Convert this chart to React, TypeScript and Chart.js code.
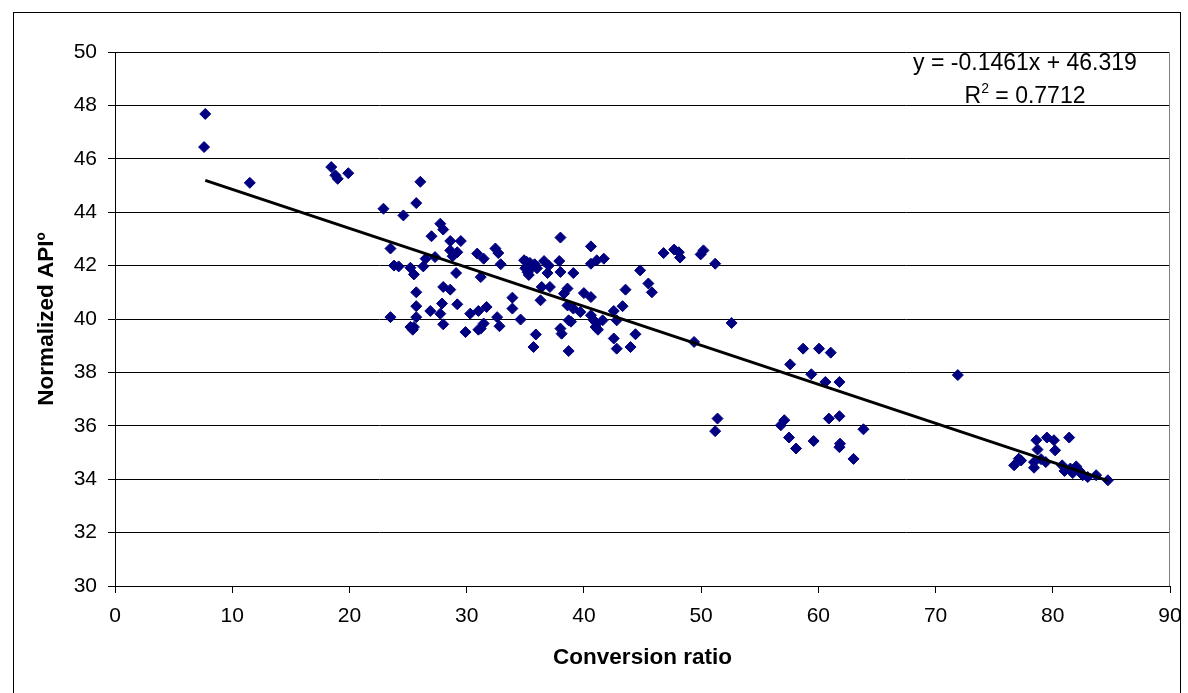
import React, { useEffect, useRef } from 'react';
import { Chart, registerables } from 'chart.js';

Chart.register(...registerables);

// ---- Data ----
const conversionRatio: number[] = [
  7.7, 7.6, 11.5, 18.45, 18.8, 19.0, 19.9,
  22.9, 24.6, 25.7, 26.05,
  27.75, 28.0, 27.0, 28.6, 29.5, 28.6, 29.2, 28.8, 30.9, 31.45,
  23.5, 23.8, 24.2, 25.2, 25.5, 26.3, 26.5, 27.3, 29.1, 31.2,
  25.7, 28.0, 28.6, 25.7, 27.9, 29.2, 26.9, 27.75, 25.7, 23.5,
  30.3, 31.0, 31.7, 25.2, 25.5, 25.4, 28.0, 29.9, 31.2, 31.45,
  38.0, 40.6, 32.45, 32.7, 32.9, 34.9, 35.0, 35.2, 35.4, 35.6,
  35.8, 35.3, 36.0, 35.1, 36.6, 37.0, 37.9, 36.9, 38.0, 39.1,
  40.6, 41.1, 36.4, 37.1, 38.6, 38.3, 40.0, 40.6, 36.3, 33.9,
  33.9, 38.6, 39.1, 39.7, 32.6, 34.6, 40.6, 40.85, 38.7, 32.8,
  31.0, 38.0, 38.1, 35.9, 35.7, 38.7, 41.0, 38.9,
  46.8, 47.7, 48.1, 48.2, 49.96, 50.2, 44.8, 45.5, 45.8, 41.7,
  43.55, 43.3, 42.55, 42.8, 41.1, 41.6, 41.2, 44.4, 42.55, 42.8,
  43.98, 49.4,
  51.2, 52.6, 51.4, 51.2, 56.8, 57.1, 57.5, 58.1, 57.6, 58.7,
  60.06, 61.06, 59.4, 60.6, 61.8, 59.6, 60.9, 61.8, 61.85, 61.8,
  63.85, 63.0,
  71.9, 76.7, 77.1, 78.6, 78.7, 78.4, 78.4, 79.5, 80.1, 80.2,
  79.4, 81.4, 80.8, 81.0, 82.0, 81.7, 82.55, 82.98, 83.7, 84.7,
  77.3, 79.0, 81.5, 82.3,
];

const normalizedApi: number[] = [
  47.68, 46.44, 45.1, 45.69, 45.38, 45.25, 45.46,
  44.13, 43.88, 44.34, 45.14,
  43.57, 43.35, 43.1, 42.92, 42.92, 42.57, 42.5, 42.35, 42.45, 42.26,
  42.64, 42.0, 41.97, 41.92, 41.67, 41.97, 42.26, 42.32, 41.72, 41.57,
  41.0, 41.2, 41.1, 40.48, 40.58, 40.55, 40.3, 40.2, 40.07, 40.07,
  40.2, 40.3, 40.45, 39.7, 39.7, 39.6, 39.8, 39.51, 39.64, 39.83,
  43.05, 42.72, 42.64, 42.47, 42.05, 42.2, 41.9, 41.75, 42.1, 41.95,
  42.05, 41.65, 41.9, 42.15, 42.17, 42.0, 42.17, 41.72, 41.76, 41.72,
  42.07, 42.2, 41.2, 41.2, 41.14, 40.95, 40.97, 40.82, 40.7, 40.8,
  40.39, 40.51, 40.39, 40.26, 40.07, 39.98, 40.14, 39.95, 39.95, 39.73,
  39.6, 39.64, 39.45, 39.42, 38.95, 38.8, 39.7, 39.9,
  42.47, 42.6, 42.5, 42.3, 42.42, 42.57, 41.82, 41.33, 41.0, 42.26,
  41.1, 40.48, 40.3, 39.95, 39.83, 39.95, 39.6, 39.43, 39.27, 38.89,
  38.95, 39.14,
  42.07, 39.85, 36.27, 35.8, 36.02, 36.21, 35.56, 35.15, 38.3, 38.89,
  38.89, 38.74, 37.93, 37.64, 37.64, 35.43, 36.27, 36.36, 35.33, 35.2,
  35.87, 34.76,
  37.9, 34.52, 34.77, 35.46, 35.11, 34.64, 34.43, 35.56, 35.46, 35.08,
  34.64, 35.56, 34.52, 34.31, 34.48, 34.23, 34.15, 34.08, 34.15, 33.96,
  34.7, 34.75, 34.4, 34.3,
];

const xAxis = { min: 0, max: 90, step: 10 };
const yAxis = { min: 30, max: 50, step: 2 };

const trendSlope = -0.1461;
const trendIntercept = 46.319;
const trendXRange: number[] = [7.7, 84.7];

const equationText = 'y = -0.1461x + 46.319';
const rSquaredValue = '0.7712';

const xTitle = 'Conversion ratio';
const yTitle = 'Normalized APIº';

const FONT = '"Liberation Sans", Arial, Helvetica, sans-serif';

export default function App() {
  const canvasRef = useRef<HTMLCanvasElement | null>(null);

  useEffect(() => {
    const canvas = canvasRef.current;
    if (!canvas) return;

    const points = conversionRatio.map((x, i) => ({ x, y: normalizedApi[i] }));
    const trend = trendXRange.map((x) => ({ x, y: trendSlope * x + trendIntercept }));

    const framePlugin = {
      id: 'frame',
      beforeDatasetsDraw(chart: any) {
        const { ctx, chartArea } = chart;
        ctx.save();
        ctx.strokeStyle = '#808080';
        ctx.lineWidth = 1;
        ctx.beginPath();
        const x = Math.round(chartArea.right) - 0.5;
        ctx.moveTo(x, chartArea.top);
        ctx.lineTo(x, chartArea.bottom);
        ctx.stroke();
        ctx.restore();
      },
      afterDraw(chart: any) {
        const { ctx, chartArea } = chart;
        const cx = chartArea.right - 145;
        ctx.save();
        ctx.fillStyle = '#000';
        ctx.textBaseline = 'alphabetic';
        ctx.font = `23px ${FONT}`;
        ctx.textAlign = 'center';
        ctx.fillText(equationText, cx, chartArea.top + 18);
        // R² line
        const partA = 'R';
        const partB = '2';
        const partC = ' = ' + rSquaredValue;
        ctx.font = `23px ${FONT}`;
        const wA = ctx.measureText(partA).width;
        const wC = ctx.measureText(partC).width;
        ctx.font = `14px ${FONT}`;
        const wB = ctx.measureText(partB).width;
        const total = wA + wB + wC;
        let sx = cx - total / 2;
        const by = chartArea.top + 51;
        ctx.textAlign = 'left';
        ctx.font = `23px ${FONT}`;
        ctx.fillText(partA, sx, by);
        sx += wA;
        ctx.font = `14px ${FONT}`;
        ctx.fillText(partB, sx, by - 10);
        sx += wB;
        ctx.font = `23px ${FONT}`;
        ctx.fillText(partC, sx, by);
        ctx.restore();
      },
    };

    const chart = new Chart(canvas, {
      type: 'scatter',
      data: {
        datasets: [
          {
            type: 'line',
            data: trend,
            borderColor: '#000000',
            borderWidth: 3,
            pointRadius: 0,
            fill: false,
            order: 0,
          } as any,
          {
            type: 'scatter',
            data: points,
            pointStyle: 'rectRot',
            pointRadius: 5.5,
            backgroundColor: '#000080',
            borderColor: '#000080',
            borderWidth: 1,
            order: 1,
          } as any,
        ],
      },
      options: {
        animation: false,
        responsive: false,
        maintainAspectRatio: false,
        layout: { padding: { left: 0, top: 52, right: 18, bottom: 0 } },
        plugins: {
          legend: { display: false },
          tooltip: { enabled: false },
        },
        scales: {
          x: {
            type: 'linear',
            min: xAxis.min,
            max: xAxis.max,
            ticks: {
              stepSize: xAxis.step,
              color: '#000',
              font: { family: FONT, size: 21 },
              padding: 11,
            },
            grid: {
              drawOnChartArea: false,
              drawTicks: true,
              tickLength: 7,
              color: '#000',
              lineWidth: 1,
            },
            border: { color: '#000', width: 1 },
            title: {
              display: true,
              text: xTitle,
              color: '#000',
              font: { family: FONT, size: 22.5, weight: 'bold' },
              padding: { top: 0, bottom: 21.5 },
            },
            afterFit: (s: any) => {
              s.height = 107;
              s.paddingLeft = 0;
              s.paddingRight = 0;
            },
          },
          y: {
            type: 'linear',
            min: yAxis.min,
            max: yAxis.max,
            ticks: {
              stepSize: yAxis.step,
              color: '#000',
              font: { family: FONT, size: 21 },
              padding: 11,
            },
            grid: {
              drawOnChartArea: true,
              drawTicks: true,
              tickLength: 7,
              color: '#000',
              lineWidth: 1,
            },
            border: { color: '#000', width: 1 },
            title: {
              display: true,
              text: yTitle,
              color: '#000',
              font: { family: FONT, size: 22.5, weight: 'bold' },
              padding: { top: 33.5, bottom: 0 },
            },
            afterFit: (s: any) => {
              s.width = 115;
              s.paddingTop = 0;
              s.paddingBottom = 0;
            },
          },
        },
      } as any,
      plugins: [framePlugin],
    });

    return () => {
      chart.destroy();
    };
  }, []);

  return (
    <>
      <div
        style={{
          position: 'fixed',
          left: 13,
          top: 12,
          width: 1168,
          height: 800,
          boxSizing: 'border-box',
          border: '1px solid #000',
          background: '#fff',
        }}
      />
      <canvas
        ref={canvasRef}
        width={1188}
        height={693}
        style={{ position: 'fixed', left: 0, top: 0, width: 1188, height: 693 }}
      />
    </>
  );
}
